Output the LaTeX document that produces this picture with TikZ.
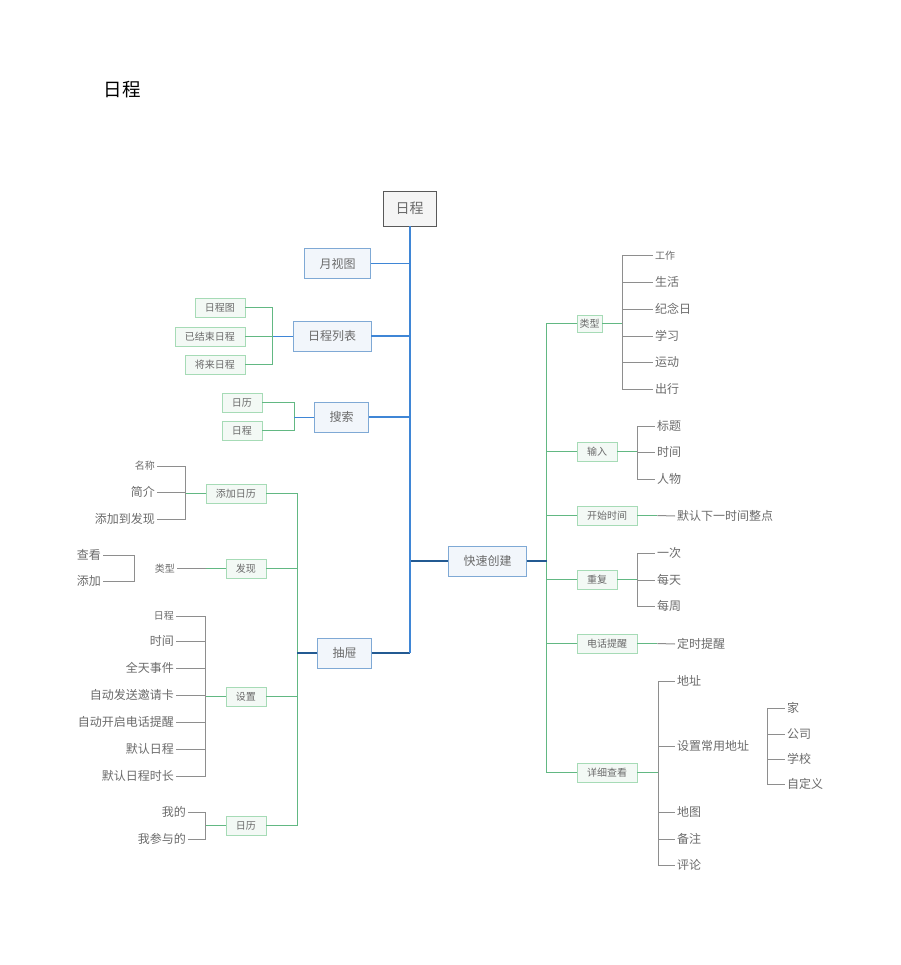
\documentclass[tikz,border=0pt]{standalone}
\usepackage{fontspec}
\setmainfont{Noto Sans CJK SC}
\usepackage{xcolor}
\usepackage{tikz}

\definecolor{trunkblue}{HTML}{3F86D6}
\definecolor{navyline}{HTML}{235A92}
\definecolor{boxblue}{HTML}{7FA9D5}
\definecolor{fillblue}{HTML}{F2F6FB}
\definecolor{boxgreen}{HTML}{A6DBB6}
\definecolor{fillgreen}{HTML}{F3F9F5}
\definecolor{linegreen}{HTML}{62B883}
\definecolor{linegray}{HTML}{8E8E8E}
\definecolor{txtgray}{HTML}{6A6A6A}

\tikzset{
  rootbox/.style={draw=black!65, fill=black!4, minimum width=53pt, minimum height=35pt,
    inner sep=0pt, font=\fontsize{14}{16}\selectfont, text=txtgray},
  mainbox/.style={draw=boxblue, fill=fillblue, minimum height=30pt, inner xsep=15pt,
    inner ysep=0pt, font=\fontsize{12}{14}\selectfont, text=txtgray},
  subbox/.style={draw=boxgreen, fill=fillgreen, minimum height=19pt, minimum width=40pt,
    inner xsep=10pt, inner ysep=0pt, font=\fontsize{10}{12}\selectfont, text=txtgray},
  leaf/.style={inner sep=2pt, font=\fontsize{12}{14}\selectfont, text=txtgray},
  smallleaf/.style={leaf, font=\fontsize{10}{12}\selectfont},
  trunk/.style={trunkblue, line width=2pt},
  navy/.style={navyline, line width=1.2pt},
  greenline/.style={linegreen, line width=1pt},
  grayline/.style={linegray, line width=1pt},
}

\begin{document}
\begin{tikzpicture}[x=1pt,y=-1pt]
\useasboundingbox (0,0) rectangle (900,965);

% title and root
\node[anchor=west, font=\fontsize{18.5}{22}\selectfont, text=black] (title) at (100,90) {日程};
\node[rootbox] (root) at (409.5,208.5) {日程};

% first level
\node[mainbox] (yueshitu) at (337.5,263.5) {月视图};
\node[mainbox] (liebiao) at (332,336) {日程列表};
\node[mainbox] (sousuo) at (341.5,417) {搜索};
\node[mainbox] (chouti) at (344.5,653) {抽屉};
\node[mainbox] (kuaisu) at (487.5,561) {快速创建};

\draw[navy] (root.south) |- (chouti.east);
\draw[navy] (root.south) |- (kuaisu.west);
\draw[trunk] (root.south) -- (root.south |- chouti.east);
\draw[trunk, line width=1.2pt] (root.south) |- (yueshitu.east);
\draw[trunk, line width=1.2pt] (root.south) |- (liebiao.east);
\draw[trunk, line width=1.2pt] (root.south) |- (sousuo.east);

% 日程列表
\node[subbox, anchor=east] (rcTu) at (245,307.5) {日程图};
\node[subbox, anchor=east] (rcEnd) at (245,336.5) {已结束日程};
\node[subbox, anchor=east] (rcNext) at (245,364.5) {将来日程};
\path (liebiao.west) ++(-20,0) coordinate (lbB);
\foreach \c in {rcTu,rcEnd,rcNext}
  \draw[greenline] (lbB) |- (\c.east);
\draw[trunk, line width=1pt] (liebiao.west) -- (lbB);

% 搜索
\node[subbox, anchor=east] (ssRili) at (262,402.5) {日历};
\node[subbox, anchor=east] (ssRicheng) at (262,430.5) {日程};
\path (sousuo.west) ++(-20,0) coordinate (ssB);
\foreach \c in {ssRili,ssRicheng}
  \draw[greenline] (ssB) |- (\c.east);
\draw[trunk, line width=1pt] (sousuo.west) -- (ssB);

% 抽屉
\node[subbox, anchor=east] (ctTianjia) at (266,493.5) {添加日历};
\node[subbox, anchor=east] (ctFaxian) at (266,568.5) {发现};
\node[subbox, anchor=east] (ctShezhi) at (266,696.5) {设置};
\node[subbox, anchor=east] (ctRili) at (266,825.5) {日历};
\path (chouti.west) ++(-20,0) coordinate (ctB);
\foreach \c in {ctTianjia,ctFaxian,ctShezhi,ctRili}
  \draw[greenline] (ctB) |- (\c.east);
\draw[navy] (chouti.west) -- (ctB);

% 添加日历
\node[smallleaf, anchor=east] (tjMing) at (157,466) {名称};
\node[leaf, anchor=east] (tjJian) at (157,492) {简介};
\node[leaf, anchor=east] (tjFa) at (157,519) {添加到发现};
\path (ctTianjia.west) ++(-20,0) coordinate (tjB);
\foreach \c in {tjMing,tjJian,tjFa}
  \draw[grayline] (tjB) |- (\c.east);
\draw[greenline] (ctTianjia.west) -- (tjB);

% 发现
\node[smallleaf, anchor=east] (fxLei) at (177,568.5) {类型};
\path (ctFaxian.west) ++(-20,0) coordinate (fxB);
\draw[grayline] (fxB) -- (fxLei.east);
\draw[greenline] (ctFaxian.west) -- (fxB);
\node[leaf, anchor=east] (lxCha) at (103,555) {查看};
\node[leaf, anchor=east] (lxTian) at (103,581) {添加};
\coordinate (lxB) at (134,568);
\foreach \c in {lxCha,lxTian}
  \draw[grayline] (lxB) |- (\c.east);

% 设置
\node[smallleaf, anchor=east] (szRc) at (176,616) {日程};
\node[leaf, anchor=east] (szSj) at (176,641) {时间};
\node[leaf, anchor=east] (szQt) at (176,668) {全天事件};
\node[leaf, anchor=east] (szYq) at (176,695) {自动发送邀请卡};
\node[leaf, anchor=east] (szDh) at (176,722) {自动开启电话提醒};
\node[leaf, anchor=east] (szMr) at (176,749) {默认日程};
\node[leaf, anchor=east] (szSc) at (176,776) {默认日程时长};
\path (ctShezhi.west) ++(-20,0) coordinate (szB);
\foreach \c in {szRc,szSj,szQt,szYq,szDh,szMr,szSc}
  \draw[grayline] (szB) |- (\c.east);
\draw[greenline] (ctShezhi.west) -- (szB);

% 日历
\node[leaf, anchor=east] (rlWo) at (188,812) {我的};
\node[leaf, anchor=east] (rlCan) at (188,839) {我参与的};
\path (ctRili.west) ++(-20,0) coordinate (rlB);
\foreach \c in {rlWo,rlCan}
  \draw[grayline] (rlB) |- (\c.east);
\draw[greenline] (ctRili.west) -- (rlB);

% 快速创建
\node[subbox, anchor=west, minimum width=25pt, minimum height=17pt, inner xsep=2pt] (ksLei) at (577,323.5) {类型};
\node[subbox, anchor=west] (ksShuru) at (577,451.5) {输入};
\node[subbox, anchor=west] (ksKaishi) at (577,515.5) {开始时间};
\node[subbox, anchor=west] (ksChong) at (577,579.5) {重复};
\node[subbox, anchor=west] (ksDian) at (577,643.5) {电话提醒};
\node[subbox, anchor=west] (ksXi) at (577,772.5) {详细查看};
\path (kuaisu.east) ++(20,0) coordinate (ksB);
\foreach \c in {ksLei,ksShuru,ksKaishi,ksChong,ksDian,ksXi}
  \draw[greenline] (ksB) |- (\c.west);
\draw[navy] (kuaisu.east) -- (ksB);

% 类型
\node[smallleaf, anchor=west] (lxGz) at (653,256) {工作};
\node[leaf, anchor=west] (lxSh) at (653,282) {生活};
\node[leaf, anchor=west] (lxJn) at (653,309) {纪念日};
\node[leaf, anchor=west] (lxXx) at (653,336) {学习};
\node[leaf, anchor=west] (lxYd) at (653,362) {运动};
\node[leaf, anchor=west] (lxCx) at (653,389) {出行};
\path (ksLei.east) ++(20,0) coordinate (leiB);
\foreach \c in {lxGz,lxSh,lxJn,lxXx,lxYd,lxCx}
  \draw[grayline] (leiB) |- (\c.west);
\draw[greenline] (ksLei.east) -- (leiB);

% 输入
\node[leaf, anchor=west] (srBt) at (655,426) {标题};
\node[leaf, anchor=west] (srSj) at (655,452) {时间};
\node[leaf, anchor=west] (srRw) at (655,479) {人物};
\path (ksShuru.east) ++(20,0) coordinate (srB);
\foreach \c in {srBt,srSj,srRw}
  \draw[grayline] (srB) |- (\c.west);
\draw[greenline] (ksShuru.east) -- (srB);

% 开始时间
\node[leaf, anchor=west] (kdMr) at (675,516) {默认下一时间整点};
\path (ksKaishi.east) ++(20,0) coordinate (kdB);
\draw[grayline] (kdB) -- (kdMr.west);
\draw[greenline] (ksKaishi.east) -- (kdB);

% 重复
\node[leaf, anchor=west] (cfYc) at (655,553) {一次};
\node[leaf, anchor=west] (cfMt) at (655,580) {每天};
\node[leaf, anchor=west] (cfMz) at (655,606) {每周};
\path (ksChong.east) ++(20,0) coordinate (cfB);
\foreach \c in {cfYc,cfMt,cfMz}
  \draw[grayline] (cfB) |- (\c.west);
\draw[greenline] (ksChong.east) -- (cfB);

% 电话提醒
\node[leaf, anchor=west] (dhDs) at (675,644) {定时提醒};
\path (ksDian.east) ++(20,0) coordinate (dhB);
\draw[grayline] (dhB) -- (dhDs.west);
\draw[greenline] (ksDian.east) -- (dhB);

% 详细查看
\node[leaf, anchor=west] (xxDz) at (675,681) {地址};
\node[leaf, anchor=west] (xxCy) at (675,746) {设置常用地址};
\node[leaf, anchor=west] (xxDt) at (675,812) {地图};
\node[leaf, anchor=west] (xxBz) at (675,839) {备注};
\node[leaf, anchor=west] (xxPl) at (675,865) {评论};
\path (ksXi.east) ++(21,0) coordinate (xxB);
\foreach \c in {xxDz,xxCy,xxDt,xxBz,xxPl}
  \draw[grayline] (xxB) |- (\c.west);
\draw[greenline] (ksXi.east) -- (xxB);

% 设置常用地址
\node[leaf, anchor=west] (cyJia) at (785,708) {家};
\node[leaf, anchor=west] (cyGs) at (785,734) {公司};
\node[leaf, anchor=west] (cyXx) at (785,759) {学校};
\node[leaf, anchor=west] (cyZdy) at (785,784) {自定义};
\coordinate (cyB) at (767,746);
\foreach \c in {cyJia,cyGs,cyXx,cyZdy}
  \draw[grayline] (cyB) |- (\c.west);
\end{tikzpicture}
\end{document}
